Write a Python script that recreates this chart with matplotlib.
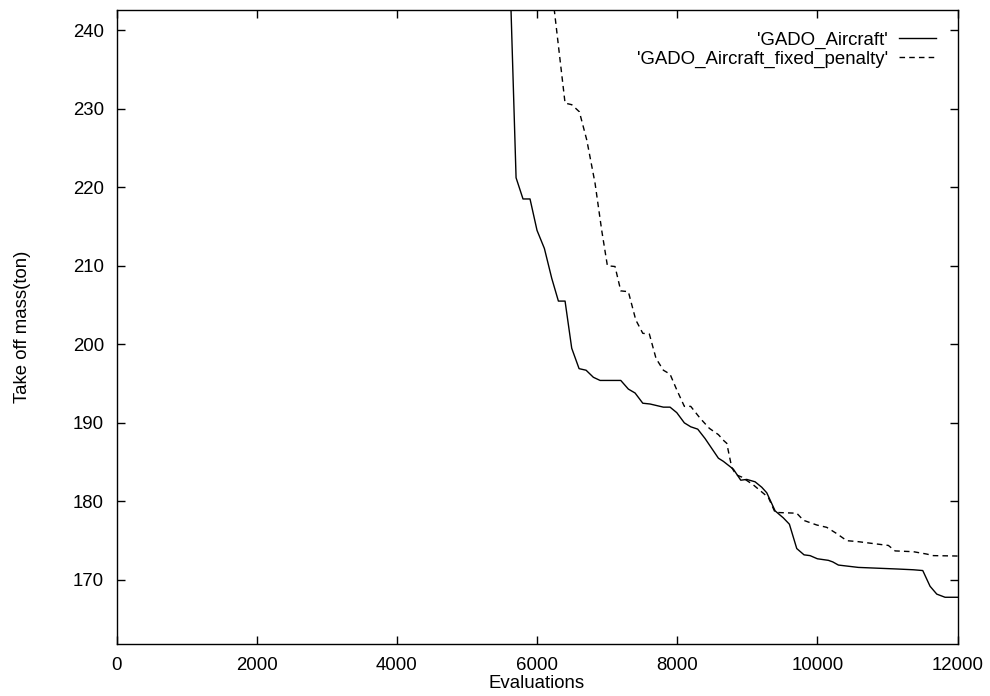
import matplotlib
matplotlib.use("Agg")
import matplotlib.pyplot as plt

plt.rcParams['font.family'] = ['Liberation Sans', 'DejaVu Sans']

# 'GADO_Aircraft' (solid)
gado_x = [5610, 5629, 5701, 5800, 5900, 6000, 6105, 6210, 6305, 6400, 6495, 6600, 6700,
          6804, 6900, 7195, 7303, 7399, 7509, 7613, 7803, 7898, 7994, 8102, 8193, 8293,
          8398, 8588, 8659, 8802, 8907, 8993, 9111, 9207, 9278, 9335, 9397, 9515, 9601,
          9706, 9810, 9896, 10000, 10157, 10220, 10300, 10585, 11133, 11370, 11504,
          11608, 11704, 11822, 12000]
gado_y = [248.0, 242.5, 221.2, 218.5, 218.5, 214.5, 212.2, 208.4, 205.5, 205.5, 199.5,
          196.9, 196.7, 195.8, 195.4, 195.4, 194.3, 193.8, 192.5, 192.4, 192.0, 192.0,
          191.3, 190.0, 189.5, 189.2, 188.0, 185.5, 185.1, 184.1, 182.7, 182.8, 182.5,
          181.8, 181.1, 180.0, 178.8, 177.9, 177.1, 174.0, 173.2, 173.1, 172.7, 172.5,
          172.3, 171.9, 171.6, 171.4, 171.3, 171.2, 169.2, 168.2, 167.8, 167.8]

# 'GADO_Aircraft_fixed_penalty' (dashed)
fixed_x = [6220, 6247, 6400, 6495, 6604, 6710, 6828, 6923, 7004, 7113, 7195, 7303, 7409,
           7509, 7603, 7698, 7803, 7898, 7994, 8102, 8193, 8326, 8459, 8588, 8669, 8707,
           8779, 8840, 8921, 9087, 9301, 9397, 9706, 9801, 9991, 10134, 10277, 10420,
           10562, 10919, 11013, 11109, 11370, 11560, 11655, 12000]
fixed_y = [245.0, 242.5, 230.7, 230.5, 229.6, 226.0, 220.5, 214.5, 210.0, 209.9, 206.8,
           206.7, 203.1, 201.4, 201.3, 198.2, 196.7, 196.2, 194.2, 192.1, 192.1, 190.6,
           189.3, 188.5, 187.7, 187.4, 184.3, 183.4, 183.1, 182.1, 180.5, 178.6, 178.5,
           177.6, 177.0, 176.7, 175.9, 175.0, 174.9, 174.5, 174.4, 173.7, 173.6, 173.3,
           173.1, 173.05]

x_ticks = [0, 2000, 4000, 6000, 8000, 10000, 12000]
y_ticks = [170, 180, 190, 200, 210, 220, 230, 240]

fs = 13.4

fig = plt.figure(figsize=(9.9, 6.96), dpi=100)
ax = fig.add_axes([0.1177, 0.0747, 0.8495, 0.9109])

ax.plot(gado_x, gado_y, color='black', lw=1.0, label="'GADO_Aircraft'")
ax.plot(fixed_x, fixed_y, color='black', lw=1.0, linestyle=(0, (4, 3)),
        label="'GADO_Aircraft_fixed_penalty'")

ax.set_xlim(0, 12000)
ax.set_ylim(161.85, 242.55)
ax.set_xticks(x_ticks)
ax.set_yticks(y_ticks)
ax.tick_params(direction='in', length=6, width=1, labelsize=fs,
               top=True, right=True, pad=9)
for s in ax.spines.values():
    s.set_linewidth(1.0)

ax.set_xlabel('Evaluations', fontsize=fs, labelpad=1)
ax.set_ylabel('Take off mass(ton)', fontsize=fs, labelpad=30)

ax.legend(loc='upper right', frameon=False, markerfirst=False, fontsize=fs,
          handlelength=2.0, handletextpad=0.6, labelspacing=0.12,
          borderaxespad=0.75)

fig.savefig('out.png', dpi=100)
